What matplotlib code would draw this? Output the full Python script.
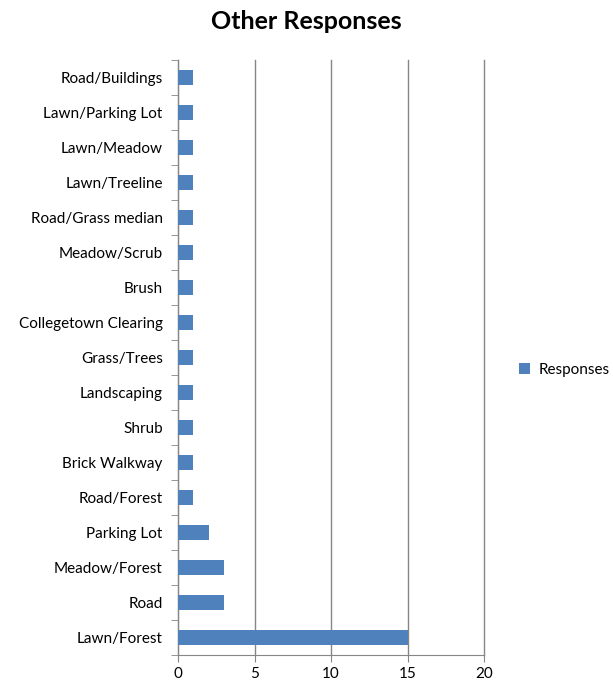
import matplotlib.pyplot as plt
import numpy as np

plt.rcParams['font.family'] = ['Lato', 'DejaVu Sans']

categories = ['Road/Buildings', 'Lawn/Parking Lot', 'Lawn/Meadow', 'Lawn/Treeline',
              'Road/Grass median', 'Meadow/Scrub', 'Brush', 'Collegetown Clearing',
              'Grass/Trees', 'Landscaping', 'Shrub', 'Brick Walkway', 'Road/Forest',
              'Parking Lot', 'Meadow/Forest', 'Road', 'Lawn/Forest']
responses = [1, 1, 1, 1, 1, 1, 1, 1, 1, 1, 1, 1, 1, 2, 3, 3, 15]
xticks = [0, 5, 10, 15, 20]

fig = plt.figure(figsize=(6.13, 6.85), dpi=100)
ax = fig.add_axes([0.2904, 0.0445, 0.4992, 0.868])

pos = np.arange(len(categories))[::-1]
ax.barh(pos, responses, height=0.43, color='#4F81BD', label='Responses', zorder=3)

ax.set_ylim(-0.5, len(categories) - 0.5)
ax.set_xlim(0, 20)
ax.set_xticks(xticks)
ax.set_yticks(pos)
ax.set_yticklabels(categories)
ax.set_yticks(np.arange(-0.5, len(categories)), minor=True)
ax.tick_params(axis='y', which='major', length=0, pad=11, labelsize=11)
ax.tick_params(axis='y', which='minor', length=5, color='#868686', direction='out')
ax.tick_params(axis='x', length=5, color='#868686', labelsize=11, pad=4)

ax.grid(axis='x', color='#868686', linewidth=1, zorder=0)
for gl in ax.get_xgridlines():
    gl.set_clip_on(False)
for s in ['top', 'right']:
    ax.spines[s].set_visible(False)
for s in ['left', 'bottom']:
    ax.spines[s].set_color('#868686')

fig.text(0.5, 0.969, 'Other Responses', ha='center', va='center',
         fontsize=18, fontweight='bold')
fig.legend(loc='center left', bbox_to_anchor=(0.825, 0.46), frameon=False,
           fontsize=11, handlelength=0.7, handleheight=0.7, handletextpad=0.55)

fig.savefig('out.png', dpi=100)
